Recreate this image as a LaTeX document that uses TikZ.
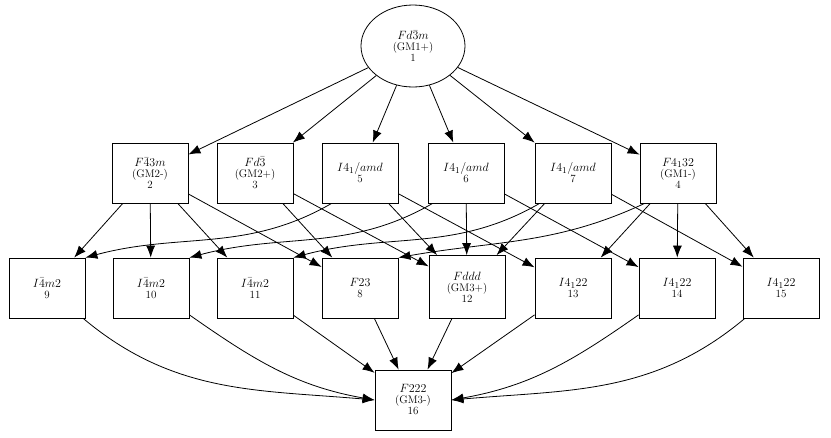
\documentclass[tikz,border=0pt]{standalone}
\usetikzlibrary{shapes,arrows}
\tikzstyle{block} = [rectangle, draw, line width=0.8pt, minimum width=76pt, minimum height=60pt, align=center, inner sep=1pt, font=\fontsize{13}{13}\selectfont]
\tikzstyle{cloud} = [draw, ellipse, line width=0.8pt, minimum width=104pt, minimum height=82pt, align=center, font=\fontsize{13}{13}\selectfont]
\tikzstyle{line} = [draw, line width=0.8pt, -{Latex[length=12pt,width=9pt]}]
\usetikzlibrary{arrows.meta}
\newcommand{\lbl}[1]{\\[-2pt]{\fontsize{11}{12}\selectfont #1}}
\begin{document}
\begin{tikzpicture}[x=1pt, y=-1pt]
      \useasboundingbox (0,0) rectangle (831,437);
      \node [cloud] (g1) at (413,46) {$Fd\bar{3}m$\lbl{(GM1+)}\lbl{1}};
      \node [block] (g2) at (150,173) {$F\bar{4}3m$\lbl{(GM2-)}\lbl{2}};
      \node [block] (g3) at (255,173) {$Fd\bar{3}$\lbl{(GM2+)}\lbl{3}};
      \node [block] (g5) at (360,173) {$I4_1/amd$\lbl{5}};
      \node [block] (g6) at (466,173) {$I4_1/amd$\lbl{6}};
      \node [block] (g7) at (573,173) {$I4_1/amd$\lbl{7}};
      \node [block] (g4) at (678,173) {$F4_132$\lbl{(GM1-)}\lbl{4}};
      \node [block] (g9) at (47,288) {$I\bar{4}m2$\lbl{9}};
      \node [block] (g10) at (151,288) {$I\bar{4}m2$\lbl{10}};
      \node [block] (g11) at (255,288) {$I\bar{4}m2$\lbl{11}};
      \node [block] (g8) at (360,288) {$F23$\lbl{8}};
      \node [block, minimum height=63pt] (g12) at (467,287) {$Fddd$\lbl{(GM3+)}\lbl{12}};
      \node [block] (g13) at (573,288) {$I4_122$\lbl{13}};
      \node [block] (g14) at (677,288) {$I4_122$\lbl{14}};
      \node [block] (g15) at (781,288) {$I4_122$\lbl{15}};
      \node [block] (g16) at (413,400) {$F222$\lbl{(GM3-)}\lbl{16}};

      \foreach \t in {g2,g3,g5,g6,g7,g4}
        \path [line] (g1) -- (\t);
      \foreach \t in {g9,g10,g11,g8}
        \path [line] (g2) -- (\t);
      \path [line] (g3) -- (g8);
      \path [line] (g3) -- (g12);
      \path [line] (g5.south west) ++(10,0) to[out=-150,in=15] (g9.north east);
      \path [line] (g5) -- (g12);
      \path [line] (g5) -- (g13);
      \path [line] (g6.south west) ++(5,0) to[out=-150,in=15] (g10.north east);
      \path [line] (g6) -- (g12);
      \path [line] (g6) -- (g14);
      \path [line] (g7.south west) ++(5,0) to[out=-150,in=15] (g11.north east);
      \path [line] (g7) -- (g12);
      \path [line] (g7) -- (g15);
      \path [line] (g4.south west) ++(5,0) to[out=-155,in=10] (g8.north east);
      \path [line] (g4) -- (g13);
      \path [line] (g4) -- (g14);
      \path [line] (g4) -- (g15);
      \path [line] (g9) to[out=-40,in=175] (g16.west);
      \path [line] (g10) to[out=-35,in=170] (g16.west);
      \path [line] (g11) -- (g16);
      \path [line] (g8) -- (g16);
      \path [line] (g12) -- (g16);
      \path [line] (g13) -- (g16);
      \path [line] (g14) to[out=-145,in=10] (g16.east);
      \path [line] (g15) to[out=-140,in=5] (g16.east);
    \end{tikzpicture}
\end{document}
